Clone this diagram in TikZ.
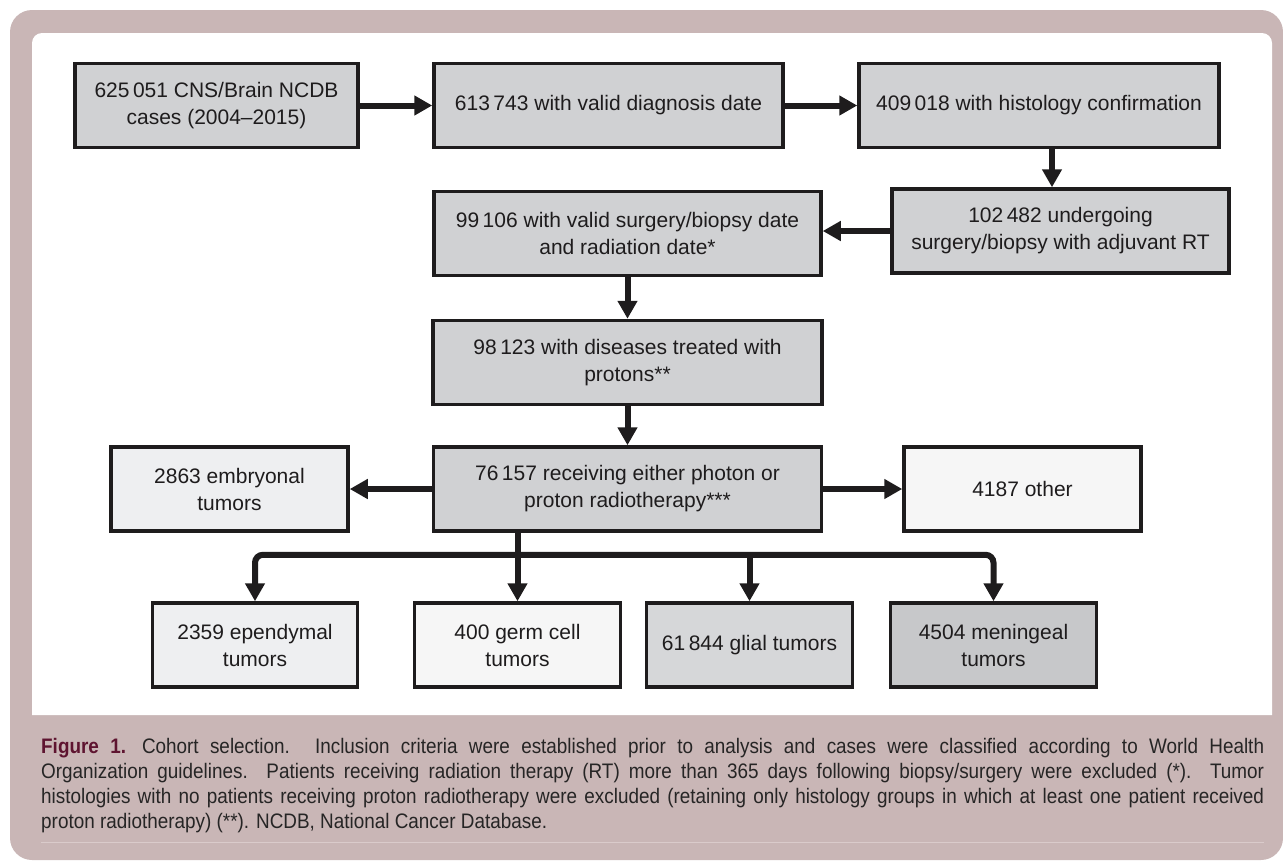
\documentclass[tikz,border=0pt]{standalone}
\usepackage{fontspec}
\setmainfont{Liberation Sans}
\newfontfamily\capfont[FakeStretch=0.9]{Liberation Sans}
\usepackage{tikz}
\usetikzlibrary{shapes, arrows.meta, positioning}
\definecolor{mauve}{HTML}{C9B6B6}
\definecolor{rulecol}{HTML}{DACBCB}
\definecolor{boxgray}{HTML}{D0D1D3}
\definecolor{boxline}{HTML}{1E1C1D}
\definecolor{pale}{HTML}{EEEFF1}
\definecolor{paler}{HTML}{F6F6F6}
\definecolor{glialgray}{HTML}{D6D7D9}
\definecolor{dimgray}{HTML}{C7C8CA}
\definecolor{figred}{HTML}{5E1430}
\definecolor{captext}{HTML}{262525}
\tikzstyle{block} = [draw=boxline, fill=boxgray, rectangle, line width=3.5pt, minimum height=84pt, align=center, text=boxline, font=\fontsize{21}{27}\selectfont]
\tikzstyle{flow} = [draw=boxline, line width=6pt, ->]

\begin{document}
\begin{tikzpicture}[x=1pt, y=1pt, >={Triangle[length=18pt,width=19pt]}]
    \useasboundingbox (0,0) rectangle (1283,-860);
    \fill [mauve, rounded corners=22pt] (10,-10) rectangle (1283,-860);
    \fill [white] (32,-715) [rounded corners=10pt] -- (32,-33) -- (1272,-33) [sharp corners] -- (1272,-715) -- cycle;
    \node [block, minimum width=283pt] (cnsall) at (216.5,-105.5) {625\,051 CNS/Brain NCDB\\cases (2004--2015)};
    \node [block, minimum width=349pt, right of=cnsall, node distance=392pt] (diagdate) {613\,743 with valid diagnosis date};
    \node [block, minimum width=360pt, right of=diagdate, node distance=430.5pt] (histconf) {409\,018 with histology confirmation};
    \node [block, minimum width=337pt, below of=histconf, node distance=125.5pt, xshift=21.5pt] (adjrt) {102\,482 undergoing\\surgery/biopsy with adjuvant RT};
    \node [block, minimum width=387pt, below of=diagdate, node distance=128pt, xshift=19pt] (validdate) {99\,106 with valid surgery/biopsy date\\and radiation date*};
    \node [block, minimum width=389pt, below of=validdate, node distance=129pt] (protons) {98\,123 with diseases treated with\\protons**};
    \node [block, minimum width=388pt, below of=protons, node distance=126.5pt] (either) {76\,157 receiving either photon or\\proton radiotherapy***};
    \node [block, fill=pale, minimum width=237pt, left of=either, node distance=398pt] (embryo) {2863 embryonal\\tumors};
    \node [block, fill=paler, minimum width=237pt, right of=either, node distance=395pt] (other) {4187 other};
    \node [block, fill=paler, minimum width=206pt, below of=either, node distance=156pt, xshift=-110pt] (germ) {400 germ cell\\tumors};
    \node [block, fill=pale, minimum width=205pt, left of=germ, node distance=262.5pt] (ependym) {2359 ependymal\\tumors};
    \node [block, fill=glialgray, minimum width=206pt, right of=germ, node distance=232pt] (glial) {61\,844 glial tumors};
    \node [block, fill=dimgray, minimum width=206pt, right of=glial, node distance=244pt] (mening) {4504 meningeal\\tumors};
    \draw [flow] (cnsall) -- (diagdate);
    \draw [flow] (diagdate) -- (histconf);
    \draw [flow] ([xshift=13pt]histconf.south) -- ([xshift=-8.5pt]adjrt.north);
    \draw [flow] (adjrt.west) -- (adjrt.west -| validdate.east);
    \draw [flow] (validdate) -- (protons);
    \draw [flow] (protons) -- (either);
    \draw [flow] (either) -- (embryo);
    \draw [flow] (either) -- (other);
    \path (either.south -| germ.north) ++(0,-22) coordinate (hub);
    \draw [flow] (either.south -| germ.north) -- (germ.north);
    \draw [flow, rounded corners=8pt] (hub) -| (ependym.north);
    \draw [flow, rounded corners=8pt] (hub) -| (mening.north);
    \draw [flow] (hub -| glial.north) -- (glial.north);
    \node [anchor=north west, text width=1223pt, align=justify, inner sep=0pt, text=captext, font=\capfont\fontsize{21}{25}\selectfont] (caption) at (41,-738) {{\bfseries\color{figred}Figure 1.}\hspace{16pt}Cohort selection. Inclusion criteria were established prior to analysis and cases were classified according to World Health\linebreak Organization guidelines. Patients receiving radiation therapy (RT) more than 365 days following biopsy/surgery were excluded (*). Tumor\linebreak histologies with no patients receiving proton radiotherapy were excluded (retaining only histology groups in which at least one patient received\linebreak proton radiotherapy) (**). NCDB, National Cancer Database.};
    \draw [rulecol, line width=1pt] (caption.south west) ++(0,-10) coordinate (rulel) -- (rulel -| caption.south east);
\end{tikzpicture}
\end{document}
